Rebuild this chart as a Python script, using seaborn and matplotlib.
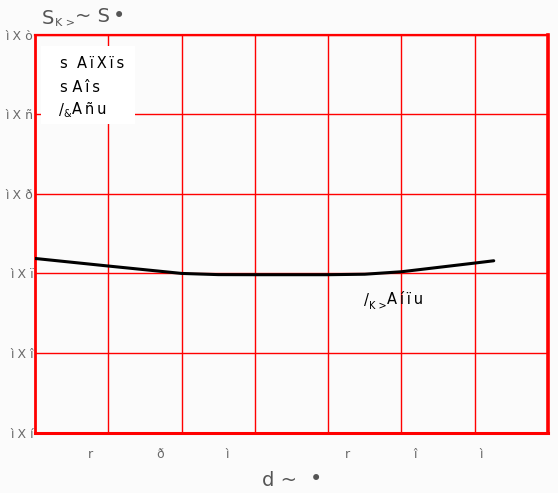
import numpy as np
import pandas as pd
import seaborn as sns
import matplotlib.pyplot as plt
from matplotlib.patches import Rectangle

curve_x = [0, 1, 2, 2.5, 3, 4, 4.5, 5, 6, 6.26]
curve_y = [0.3188, 0.3093, 0.3000, 0.2985, 0.2984, 0.2984, 0.2990, 0.3021, 0.3130, 0.3159]

# tick labels as they appear in the picture
y_ticks = [0.1, 0.2, 0.3, 0.4, 0.5, 0.6]
y_labels = ['ì X í', 'ì X î', 'ì X ï', 'ì X ð', 'ì X ñ', 'ì X ò']
x_ticks = [0.76, 1.70, 2.62, 4.27, 5.19, 6.09]
x_labels = ['r', 'ð', 'ì', 'r', 'î', 'ì']
x_grid = [1, 2, 3, 4, 5, 6]

legend_lines = ['s  A\u2009ï\u2009X\u2009ï\u2009s', 's A\u2009î\u2009s']

W, H = 558, 493
bg = '#fbfbfb'


def px(x, y):
    """ pixel position (from top left) to figure fraction """
    return x / W, 1 - y / H


sns.set_style('white')
plt.rcParams['font.family'] = ['DejaVu Sans']

fig = plt.figure(figsize=(W / 100, H / 100), dpi=100, facecolor=bg)
ax = fig.add_axes([0.0627, 0.1223, 0.9193, 0.8077])
ax.set_facecolor(bg)

df = pd.DataFrame({'x': curve_x, 'y': curve_y})
sns.lineplot(data=df, x='x', y='y', ax=ax, color='black', linewidth=2.2, zorder=3)

ax.set_xlim(0, 7)
ax.set_ylim(0.1, 0.6)

ax.set_yticks(y_ticks)
ax.set_yticklabels(y_labels)
ax.set_xticks(x_ticks)
ax.set_xticklabels(x_labels)
ax.set_xticks(x_grid, minor=True)
ax.tick_params(axis='both', which='both', length=0, labelsize=9, labelcolor='#6a6a6a')
ax.tick_params(axis='y', pad=1)
ax.tick_params(axis='x', pad=11)

# red grid
ax.grid(False)
ax.grid(axis='x', which='minor', color='red', linewidth=1.0)
ax.grid(axis='y', which='major', color='red', linewidth=1.0)
ax.set_axisbelow(True)

for side, lw in [('left', 2), ('bottom', 2.2), ('top', 1.6), ('right', 2.6)]:
    ax.spines[side].set_visible(True)
    ax.spines[side].set_color('red')
    ax.spines[side].set_linewidth(lw)

ax.set_xlabel('')
ax.set_ylabel('')

# legend-like text block on a white box
x0, y0 = px(41, 124)
x1, y1 = px(135, 46)
fig.patches.append(Rectangle((x0, y0), x1 - x0, y1 - y0, transform=fig.transFigure,
                             facecolor='white', edgecolor='none', zorder=4))
for i, line in enumerate(legend_lines):
    fig.text(*px(60, 64 + 23 * i), line, fontsize=10.5, color='black',
             va='center', ha='left', zorder=5)
fig.text(*px(59, 110), '/', fontsize=10.5, color='black', va='center', ha='left', zorder=5)
fig.text(*px(63, 114), '&', fontsize=7, color='black', va='center', ha='left', zorder=5)
fig.text(*px(72, 110), 'A\u2009ñ\u2009u', fontsize=10.5, color='black', va='center', ha='left', zorder=5)

# curve annotation
fig.text(*px(364, 300), '/', fontsize=10.5, color='black', va='center', ha='left', zorder=5)
fig.text(*px(369, 306), 'K >', fontsize=7, color='black', va='center', ha='left', zorder=5)
fig.text(*px(387, 300), 'A\u2009í\u2009ï\u2009u', fontsize=10.5, color='black', va='center', ha='left', zorder=5)

# axis titles
fig.text(*px(42, 18), 'S', fontsize=14, color='#555555', va='center', ha='left')
fig.text(*px(55, 23), 'K >', fontsize=8, color='#555555', va='center', ha='left')
fig.text(*px(75, 17), '~ S', fontsize=14, color='#555555', va='center', ha='left')
fig.text(*px(113, 16), '•', fontsize=15, color='#555555', va='center', ha='left')
fig.text(*px(262, 480), 'd ~', fontsize=14, color='#555555', va='center', ha='left')
fig.text(*px(310, 479), '•', fontsize=15, color='#555555', va='center', ha='left')

fig.savefig('out.png', dpi=100, facecolor=bg)
